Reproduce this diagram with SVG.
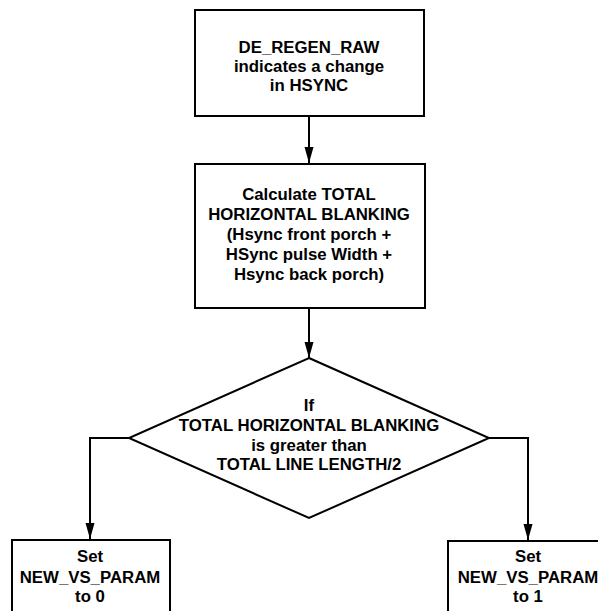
<svg xmlns="http://www.w3.org/2000/svg" width="598" height="611" viewBox="0 0 598 611">
<style>
.box{fill:#fff;stroke:#000;stroke-width:2}
.t{font-family:"Liberation Sans",Arial,sans-serif;font-weight:bold;font-size:16.8px;fill:#000;text-anchor:middle}
.c{fill:none;stroke:#000;stroke-width:2}
</style>
<defs>
<marker id="ah" markerUnits="userSpaceOnUse" markerWidth="17" markerHeight="10" refX="16" refY="4.5" orient="auto">
<path d="M0,0 L16,4.5 L0,9 z" fill="#000"/>
</marker>
</defs>
<rect width="598" height="611" fill="#fff"/>
<g id="connectors">
<line class="c" x1="309" y1="117" x2="309" y2="163" marker-end="url(#ah)"/>
<line class="c" x1="309" y1="309" x2="309" y2="358" marker-end="url(#ah)"/>
<polyline class="c" points="129,438 90,438 90,539" marker-end="url(#ah)"/>
<polyline class="c" points="489,438 528,438 528,540" marker-end="url(#ah)"/>
</g>
<g id="start">
<rect class="box" x="195" y="10" width="229" height="106"/>
<text class="t" x="309" y="53">DE_REGEN_RAW</text>
<text class="t" x="309" y="72">indicates a change</text>
<text class="t" x="309" y="91">in HSYNC</text>
</g>
<g id="calc">
<rect class="box" x="195" y="164" width="230" height="144"/>
<text class="t" x="309" y="200">Calculate TOTAL</text>
<text class="t" x="309" y="220">HORIZONTAL BLANKING</text>
<text class="t" x="309" y="240">(Hsync front porch +</text>
<text class="t" x="309" y="260">HSync pulse Width +</text>
<text class="t" x="309" y="280">Hsync back porch)</text>
</g>
<g id="decision">
<polygon class="box" points="309,358 489,438 309,518 129,438"/>
<text class="t" x="309" y="411">If</text>
<text class="t" x="309" y="431">TOTAL HORIZONTAL BLANKING</text>
<text class="t" x="309" y="451">is greater than</text>
<text class="t" x="309" y="470">TOTAL LINE LENGTH/2</text>
</g>
<g id="set0">
<rect class="box" x="12" y="540" width="158" height="80"/>
<text class="t" x="90" y="562">Set</text>
<text class="t" x="90" y="583">NEW_VS_PARAM</text>
<text class="t" x="90" y="602">to 0</text>
</g>
<g id="set1">
<rect class="box" x="448" y="541" width="160" height="80"/>
<text class="t" x="528" y="562">Set</text>
<text class="t" x="528" y="583">NEW_VS_PARAM</text>
<text class="t" x="528" y="602">to 1</text>
</g>
</svg>
